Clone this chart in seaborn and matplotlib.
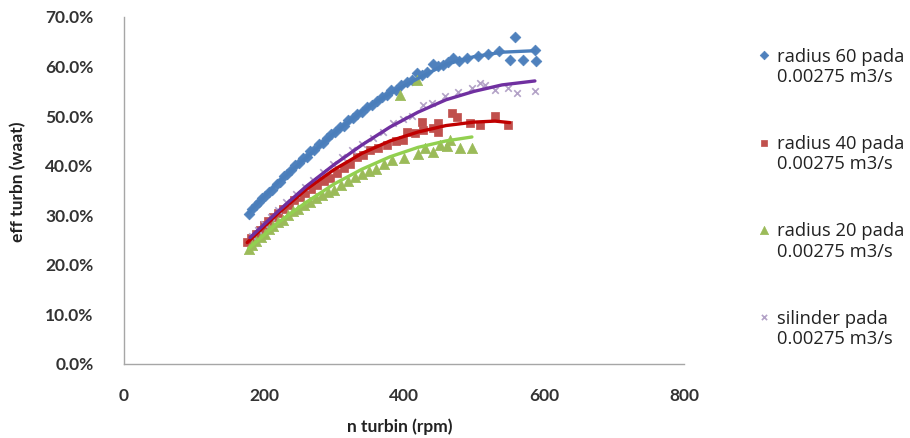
import matplotlib
matplotlib.use("Agg")
import matplotlib.pyplot as plt
import seaborn as sns
from matplotlib.ticker import FuncFormatter, MultipleLocator

# ---------------- data ----------------
r60_rpm = [178, 183, 188, 193, 197, 202, 207, 212, 218, 223, 228, 233, 238, 244, 250, 255, 261, 266,
           272, 278, 284, 290, 296, 302, 308, 314, 320, 327, 333, 340, 347, 354, 361, 368, 375, 382,
           389, 396, 404, 411, 418, 426, 433, 441, 448, 455, 463, 470, 478, 490, 505, 520, 535, 551,
           559, 570, 587, 589]
r60_eff = [30.3, 31.2, 32.0, 32.6, 33.4, 33.9, 34.6, 35.2, 36.3, 36.8, 37.9, 38.3, 39.2, 40.1, 40.6,
           41.5, 41.8, 42.9, 43.2, 44.3, 44.6, 45.6, 46.4, 46.8, 47.9, 48.1, 49.2, 49.6, 50.5, 50.8,
           51.9, 52.3, 53.0, 53.8, 54.2, 55.3, 55.2, 56.3, 56.9, 57.3, 58.8, 58.3, 59.0, 60.6, 60.1,
           60.4, 61.0, 61.7, 61.2, 61.8, 62.2, 62.6, 63.2, 61.3, 66.0, 61.3, 63.3, 61.1]

r40_rpm = [176, 182, 188, 194, 200, 206, 213, 220, 227, 235, 243, 251, 259, 267, 276, 285, 294, 304,
           314, 323, 333, 342, 351, 363, 376, 388, 399, 404, 415, 426, 427, 441, 448, 449, 468, 476,
           494, 509, 530, 549]
r40_eff = [24.6, 25.5, 26.3, 27.1, 28.0, 28.8, 29.6, 30.4, 31.3, 32.0, 33.0, 33.6, 34.4, 35.3, 36.1,
           36.9, 37.6, 38.5, 39.6, 40.4, 41.8, 42.2, 43.2, 43.6, 44.2, 45.0, 45.2, 46.8, 46.5, 48.8,
           47.2, 47.6, 46.8, 48.6, 50.6, 49.8, 48.6, 48.2, 50.0, 48.2]

r20_rpm = [178, 183, 189, 195, 201, 207, 213, 220, 227, 234, 241, 249, 257, 265, 274, 283, 292, 300,
           310, 320, 330, 340, 350, 360, 372, 383, 394, 400, 418, 420, 430, 441, 451, 461, 466, 480, 497]
r20_eff = [23.2, 24.0, 24.8, 25.6, 26.3, 27.2, 27.8, 28.6, 29.1, 30.0, 30.8, 31.2, 32.0, 32.6, 33.5,
           34.0, 34.6, 35.1, 36.2, 37.0, 37.8, 38.3, 39.0, 39.4, 40.3, 41.2, 54.3, 41.6, 57.3, 42.3,
           43.6, 42.8, 44.2, 44.0, 45.2, 43.6, 43.6]

sil_rpm = [183, 192, 200, 210, 220, 232, 245, 258, 270, 284, 298, 312, 326, 340, 355, 370, 384, 398,
           412, 427, 440, 459, 477, 497, 509, 516, 530, 549, 561, 587]
sil_eff = [25.8, 27.0, 28.2, 29.6, 31.0, 32.6, 34.2, 35.8, 37.2, 38.8, 40.4, 41.8, 43.2, 44.4, 45.6,
           46.8, 48.6, 49.4, 50.0, 52.2, 52.6, 54.1, 54.9, 55.7, 56.7, 56.3, 55.3, 55.7, 54.7, 55.1]

# trend lines
t60_rpm = [178, 220, 260, 300, 340, 380, 420, 460, 500, 540, 587]
t60_eff = [30.5, 36.6, 41.6, 46.5, 51.0, 54.6, 57.6, 60.5, 62.0, 62.9, 63.2]
t40_rpm = [176, 220, 260, 300, 340, 380, 420, 460, 500, 530, 551]
t40_eff = [24.5, 30.4, 35.2, 39.2, 42.5, 45.0, 46.8, 48.1, 48.8, 49.0, 48.7]
t20_rpm = [178, 220, 260, 300, 340, 380, 420, 460, 497]
t20_eff = [23.3, 28.5, 32.6, 36.3, 39.3, 41.8, 43.7, 45.0, 45.8]
tsil_rpm = [180, 220, 260, 300, 340, 380, 420, 460, 500, 540, 587]
tsil_eff = [25.5, 30.8, 35.8, 40.2, 44.2, 47.8, 50.8, 53.3, 55.0, 56.3, 57.1]

labels = ["radius 60 pada\n0.00275 m3/s", "radius 40 pada\n0.00275 m3/s",
          "radius 20 pada\n0.00275 m3/s", "silinder pada\n0.00275 m3/s"]
x_ticks = [0, 200, 400, 600, 800]

# ---------------- plot ----------------
sns.set_style("white")
plt.rcParams['font.family'] = ['Lato', 'DejaVu Sans']

fig = plt.figure(figsize=(9.10, 4.38), dpi=100)
ax = fig.add_axes([124 / 910, 1 - 364 / 438, (684 - 124) / 910, (364 - 17) / 438])

def frac(v):
    return [e / 100 for e in v]

sns.scatterplot(x=r60_rpm, y=frac(r60_eff), marker="D", s=30, color="#4F81BD",
                edgecolor="#4F81BD", linewidth=0.5, ax=ax, zorder=2, label=labels[0])
sns.scatterplot(x=r40_rpm, y=frac(r40_eff), marker="s", s=36, color="#C0504D",
                edgecolor="#C0504D", linewidth=0.5, ax=ax, zorder=2, label=labels[1])
sns.scatterplot(x=r20_rpm, y=frac(r20_eff), marker="^", s=55, color="#9BBB59",
                edgecolor="#9BBB59", linewidth=0.5, ax=ax, zorder=2, label=labels[2])
sns.scatterplot(x=sil_rpm, y=frac(sil_eff), marker="x", s=22, color="#B3A2C7",
                linewidth=1.2, ax=ax, zorder=2, label=labels[3])

sns.lineplot(x=t60_rpm, y=frac(t60_eff), color="#4A7EBB", linewidth=2.4, ax=ax, zorder=3)
sns.lineplot(x=t40_rpm, y=frac(t40_eff), color="#C00000", linewidth=2.4, ax=ax, zorder=3)
sns.lineplot(x=t20_rpm, y=frac(t20_eff), color="#92D050", linewidth=2.4, ax=ax, zorder=3)
sns.lineplot(x=tsil_rpm, y=frac(tsil_eff), color="#7030A0", linewidth=2.4, ax=ax, zorder=3)

ax.set_xlim(0, 800)
ax.set_ylim(0, 0.70)
ax.set_xticks(x_ticks)
ax.yaxis.set_major_locator(MultipleLocator(0.10))
ax.yaxis.set_major_formatter(FuncFormatter(lambda v, p: f"{v*100:.1f}%"))

for s in ["top", "right"]:
    ax.spines[s].set_visible(False)
for s in ["left", "bottom"]:
    ax.spines[s].set_color("#A6A6A6")
    ax.spines[s].set_linewidth(1.0)

ax.tick_params(axis="y", length=0, pad=22, labelsize=12.5, labelcolor="#333333")
ax.tick_params(axis="x", length=0, pad=17, labelsize=12.5, labelcolor="#333333")
for t in ax.get_xticklabels() + ax.get_yticklabels():
    t.set_fontweight("bold")

ax.set_xlabel("n turbin (rpm)", fontsize=12.5, fontweight="bold", color="#222222")
ax.set_ylabel("eff turbn (waat)", fontsize=12.5, fontweight="bold", color="#222222")
ax.xaxis.set_label_coords((400 - 124) / 560, -(418 - 364) / 347)
ax.yaxis.set_label_coords(-(124 - 26) / 560, (364 - 182) / 347)

handles, labs = ax.get_legend_handles_labels()
leg = ax.legend(handles[:4], labs[:4], loc="upper left", bbox_to_anchor=(755 / 910, 1 - 48 / 438),
                bbox_transform=fig.transFigure, frameon=False,
                prop={"family": "Open Sans", "size": 13.2},
                labelspacing=2.68, handletextpad=0.2, handlelength=1.0, markerscale=0.8,
                scatteryoffsets=[1.45], borderaxespad=0, borderpad=0)
for t in leg.get_texts():
    t.set_color("#222222")
    t.set_linespacing(1.15)

fig.savefig("out.png", dpi=100)
